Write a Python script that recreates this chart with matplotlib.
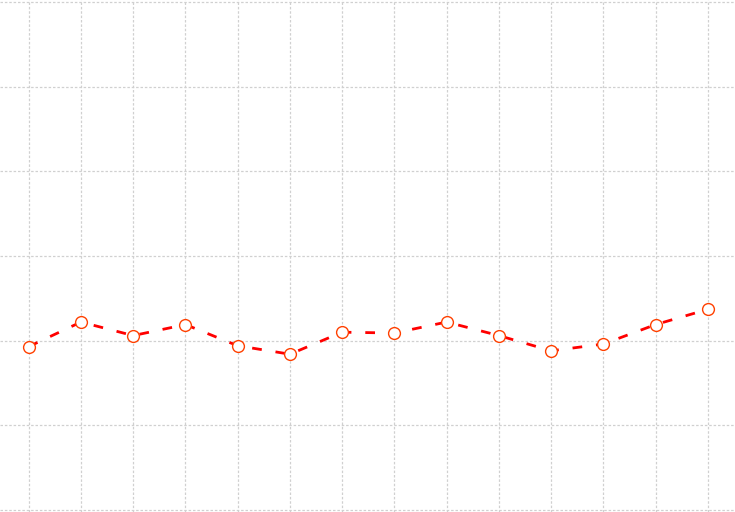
import numpy as np
import matplotlib
matplotlib.use('Agg')
import matplotlib.pyplot as plt

# values
x = np.arange(14)
y = [1.93, 2.22, 2.06, 2.19, 1.94, 1.84, 2.10, 2.09, 2.22, 2.06, 1.88, 1.96, 2.19, 2.37]
yticks = [0, 1, 2, 3, 4, 5, 6]

fig = plt.figure(figsize=(7.35, 5.12), dpi=100)
ax = fig.add_axes([0, 0, 1, 1])
ax.plot(x, y, color='red', linestyle='--', linewidth=2, dashes=(3.5, 5),
        marker='o', markersize=8.5, markerfacecolor='white',
        markeredgecolor='#ff4000', markeredgewidth=1, zorder=3)
ax.set_xticks(x)
ax.set_yticks(yticks)
ax.set_xlim(-0.55, 13.52)
ax.set_ylim(-0.024, 6.024)
ax.grid(True, color='#d0d0d0', linestyle=(0, (2, 1.5)), linewidth=0.9)
for s in ax.spines.values():
    s.set_visible(False)
ax.tick_params(length=0, labelbottom=False, labelleft=False)
fig.savefig('out.png', dpi=100)
